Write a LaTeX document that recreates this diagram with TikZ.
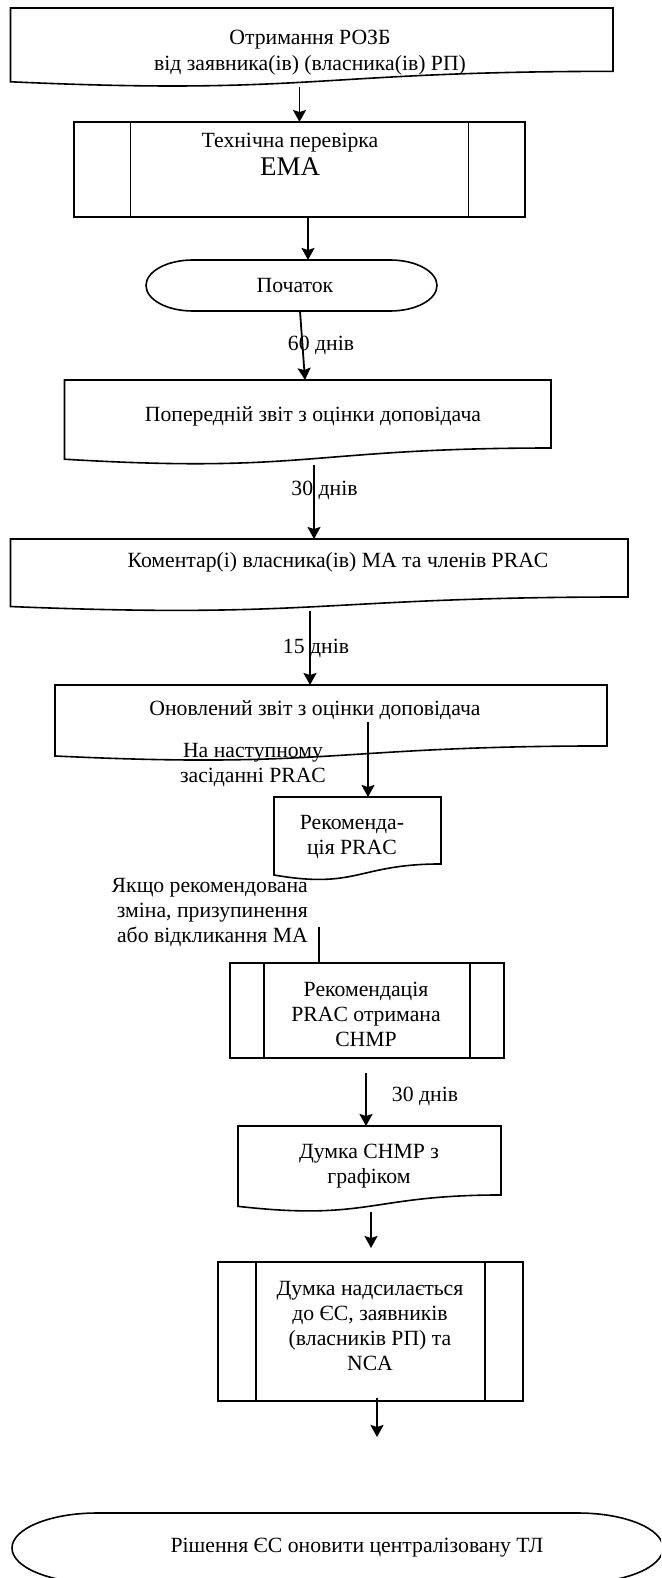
\documentclass[tikz,border=0pt]{standalone}
\usepackage{fontspec}
\setmainfont{Liberation Serif}
\usetikzlibrary{arrows.meta,calc}

\tikzset{
  shp/.style={draw=none, inner sep=0pt, outer sep=0pt, rectangle},
  outline/.style={line width=1.6pt, draw=black},
  txt/.style={inner sep=0pt, align=center, font=\fontsize{21.7}{25}\selectfont},
  arr/.style={line width=1.8pt, -{Stealth[length=12pt,width=13pt,inset=2pt]}},
  conn/.style={line width=1.8pt},
}
\newcommand{\docoutline}[1]{%
  \draw[outline] (#1.north west) -- (#1.north east) -- ($(#1.north east)!0.802!(#1.south east)$)
    .. controls ($(#1.north)!0.802!(#1.south)$) and ($(#1.north)!1.1075!(#1.south)$) ..
    ($(#1.north west)!0.934!(#1.south west)$) -- cycle;}
\newcommand{\predefoutline}[1]{%
  \draw[outline] (#1.north west) rectangle (#1.south east);
  \draw[outline] ($(#1.north west)!0.125!(#1.north east)$) -- ($(#1.south west)!0.125!(#1.south east)$);
  \draw[outline] ($(#1.north east)!0.125!(#1.north west)$) -- ($(#1.south east)!0.125!(#1.south west)$);}
\newcommand{\termoutline}[3]{%
  \draw[outline] ([xshift=#2]#1.north west) -- ([xshift=-#2]#1.north east)
    arc[start angle=90, end angle=-90, x radius=#2, y radius=#3]
    -- ([xshift=#2]#1.south west)
    arc[start angle=270, end angle=90, x radius=#2, y radius=#3] -- cycle;}

\begin{document}
\begin{tikzpicture}[x=1pt, y=-1pt]
\useasboundingbox (0,0) rectangle (661,1578);
\clip (0,0) rectangle (661,1578);
\fill[white] (0,0) rectangle (661,1578);

% shapes
\node[shp, minimum width=602.5pt, minimum height=79pt] (b1) at (311.75,47.5) {};
\node[shp, minimum width=451pt, minimum height=95pt] (b2) at (299.5,169.5) {};
\node[shp, minimum width=291pt, minimum height=51pt] (b3) at (291.5,285.5) {};
\node[shp, minimum width=486.5pt, minimum height=84.8pt] (b4) at (307.75,422.4) {};
\node[shp, minimum width=617.5pt, minimum height=72.3pt] (b5) at (319.25,575.15) {};
\node[shp, minimum width=552pt, minimum height=76pt] (b6) at (331,723) {};
\node[shp, minimum width=167pt, minimum height=83.5pt] (b7) at (357.5,838.75) {};
\node[shp, minimum width=274pt, minimum height=95pt] (b8) at (367,1010.5) {};
\node[shp, minimum width=263pt, minimum height=86pt] (b9) at (369.5,1169) {};
\node[shp, minimum width=305pt, minimum height=139pt] (b10) at (370.5,1331.5) {};
\node[shp, minimum width=651pt, minimum height=70pt] (b11) at (337.5,1548) {};

\docoutline{b1}
\predefoutline{b2}
\termoutline{b3}{46.8pt}{25.5pt}
\docoutline{b4}
\docoutline{b5}
\docoutline{b6}
\docoutline{b7}
\predefoutline{b8}
\docoutline{b9}
\predefoutline{b10}
\termoutline{b11}{85pt}{35pt}

% texts
\node[txt] (t1) at (310,53) {Отримання РОЗБ\\[1pt]від заявника(ів) (власника(ів) РП)};
\node[txt] (t2) at (290,154) {Технічна перевірка\\[3pt]{\fontsize{27}{30}\selectfont EMA}};
\node[txt] (t3) at (295,286) {Початок};
\node[txt] (t4) at (313,416) {Попередній звіт з оцінки доповідача};
\node[txt] (t5) at (338,562) {Коментар(і) власника(ів) MA та членів PRAC};
\node[txt] (t6) at (315,710) {Оновлений звіт з оцінки доповідача};
\node[txt] (t7) at (352,837) {Рекоменда-\\ція PRAC};
\node[txt] (t8) at (366,1014) {Рекомендація\\PRAC отримана\\CHMP};
\node[txt] (t9) at (369,1166) {Думка CHMP з\\графіком};
\node[txt] (t10) at (370,1325.5) {Думка надсилається\\до ЄС, заявників\\(власників РП) та\\NCA};
\node[txt] (t11) at (357,1548) {Рішення ЄС оновити централізовану ТЛ};

% labels
\node[txt] (l3) at (321,345) {60 днів};
\node[txt] (l4) at (324.5,490) {30 днів};
\node[txt] (l5) at (316,648) {15 днів};
\node[txt] (l6) at (253,765) {На наступному\\засіданні PRAC};
\node[txt, align=right, anchor=east] (l7) at (308,912) {Якщо рекомендована\\зміна, призупинення\\або відкликання MA};
\node[txt] (l8) at (425,1096) {30 днів};

% connectors
\draw[arr] (b2.north |- b1.south) -- (b2.north);
\draw[arr] ([xshift=8.5pt]b2.south) -- ([xshift=16.5pt]b3.north);
\draw[arr] ([xshift=8.5pt]b3.south) -- ([xshift=-2.75pt]b4.north);
\draw[arr] ([xshift=6.25pt]b4.south) -- ([xshift=-5.25pt]b5.north);
\draw[arr] ([xshift=-9.25pt]b5.south) -- ([xshift=-21pt]b6.north);
\coordinate (s6) at ([xshift=37pt,yshift=39pt]b6.south);
\draw[arr] (s6) -- ([xshift=10.5pt]b7.north);
\coordinate (s8) at ([xshift=-48pt,yshift=36pt]b8.north);
\draw[conn] (s8) -- ([xshift=-48pt]b8.north);
\draw[arr] ([xshift=-1pt,yshift=-15pt]b8.south) -- ([xshift=-3.5pt]b9.north);
\coordinate (e9) at ([xshift=0.5pt,yshift=14pt]b10.north);
\draw[arr] ([xshift=1.5pt]b9.south) -- (e9);
\coordinate (e10) at ([xshift=6.5pt,yshift=-36pt]b10.south);
\draw[arr] ([xshift=6.5pt,yshift=3pt]b10.south) -- (e10);
\end{tikzpicture}
\end{document}
